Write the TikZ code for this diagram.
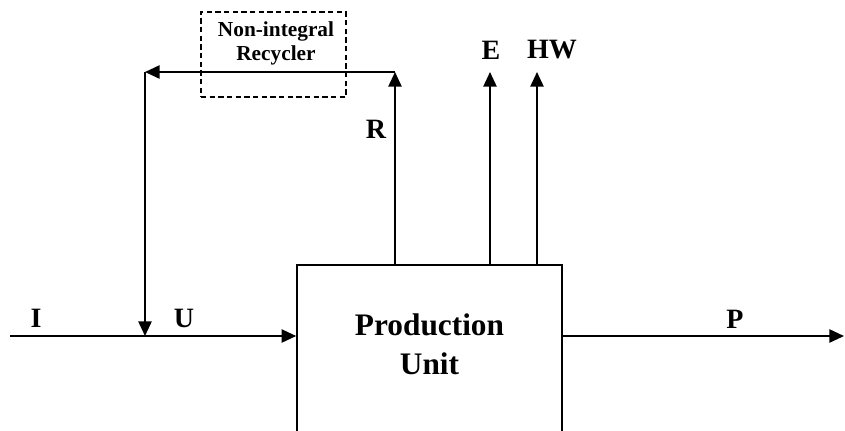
\documentclass[tikz,border=0pt]{standalone}
\usepackage{fontspec}
\setmainfont{Liberation Serif}
\usetikzlibrary{arrows.meta}

\begin{document}
\begin{tikzpicture}[x=0.75pt,y=-0.75pt,>={Triangle[length=11pt,width=10pt]},line width=1.2pt,
  lbl/.style={font=\fontsize{21}{26}\selectfont\bfseries,inner sep=0pt}]
  \useasboundingbox (0,0) rectangle (845,430);
  % production unit, bottom edge runs off the page
  \node[draw,minimum width=198.75pt,minimum height=146.25pt] (unit) at (429.5,362.5) {};
  \node[align=center,font=\fontsize{23.5}{29}\selectfont\bfseries] (unittxt) at (429.5,344) {Production\\Unit};
  % dashed recycler box
  \node[draw,dashed,dash pattern=on 4pt off 2.5pt,line width=0.9pt,minimum width=108.75pt,minimum height=63.75pt] (recyc) at (273.5,54.5) {};
  \node[align=center,font=\fontsize{16}{18}\selectfont\bfseries] (recyctxt) at (276,43) {Non-integral\\Recycler};
  % end points of the streams
  \coordinate (src) at (10,336);
  \coordinate (mix) at (145,336);
  \coordinate (sink) at (844,336);
  \coordinate (rtop) at (395,72);
  \coordinate (ltop) at (145,72);
  \coordinate (etop) at (490,72);
  \coordinate (hwtop) at (537,72);
  % streams
  \draw[->] (src) -- (src -| unit.west);
  \draw[->] (unit.east |- sink) -- (sink);
  \draw[->] (rtop |- unit.north) -- (rtop);
  \draw[->] (rtop) -- (ltop);
  \draw[->] (ltop) -- (mix);
  \draw[->] (etop |- unit.north) -- (etop);
  \draw[->] (hwtop |- unit.north) -- (hwtop);
  % stream labels
  \node[lbl] (li) at (36,318) {I};
  \node[lbl] (lu) at (184,318) {U};
  \node[lbl] (lp) at (735,319) {P};
  \node[lbl] (lr) at (376,129) {R};
  \node[lbl] (le) at (491,50) {E};
  \node[lbl] (lhw) at (552,50) {HW};
\end{tikzpicture}
\end{document}
